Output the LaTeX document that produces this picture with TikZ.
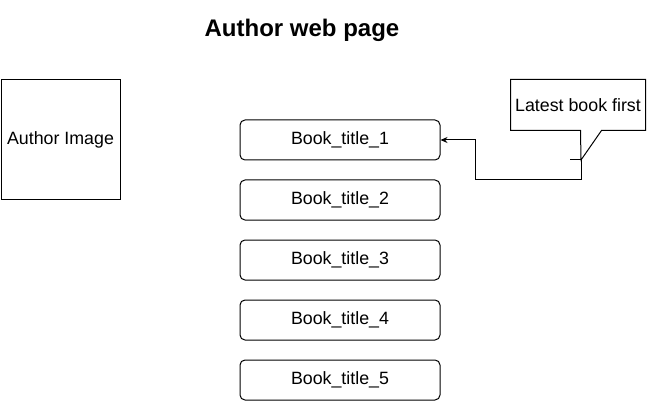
\documentclass[tikz,border=0pt]{standalone}
\usepackage{fontspec}
\setmainfont{Liberation Sans}
\usetikzlibrary{arrows.meta,calc}
\begin{document}
\begin{tikzpicture}[x=1pt,y=-1pt,line width=1pt,
  txt/.style={font=\fontsize{17.8}{21}\selectfont},
  bookbox/.style={txt,draw,rounded corners=5pt,minimum width=200pt,minimum height=40pt,inner sep=0pt},
  plainbox/.style={txt,draw,minimum width=119pt,minimum height=120pt,inner sep=0pt},
  note/.style={txt,minimum width=134pt,minimum height=50pt,inner sep=0pt}]
\useasboundingbox (0,0) rectangle (651,401);
\node[font=\fontsize{24}{28}\selectfont\bfseries] (title) at (302,30) {Author web page};
\node[plainbox] (author) at (60.5,140) {Author Image};
\node[bookbox] (b1) at (340,140) {Book\_title\_1};
\node[bookbox] (b2) at (340,200) {Book\_title\_2};
\node[bookbox] (b3) at (340,260) {Book\_title\_3};
\node[bookbox] (b4) at (340,320) {Book\_title\_4};
\node[bookbox] (b5) at (340,380) {Book\_title\_5};
\node[note] (callout) at (578,105) {Latest book first};
\coordinate (tip) at (581,160);
\draw[line join=miter] (callout.north west) -- (callout.north east) -- (callout.south east)
  -- ($(callout.south east)+(-44,0)$) -- (tip) -- ($(callout.south west)+(70,0)$)
  -- (callout.south west) -- cycle;
\coordinate (c0) at (570,160);
\draw[-{Stealth[length=7pt,width=6pt]}] (c0) -- (tip) -- ++(0,20) -- (475,180) -- (475,140) -- (b1.east);
\end{tikzpicture}
\end{document}
